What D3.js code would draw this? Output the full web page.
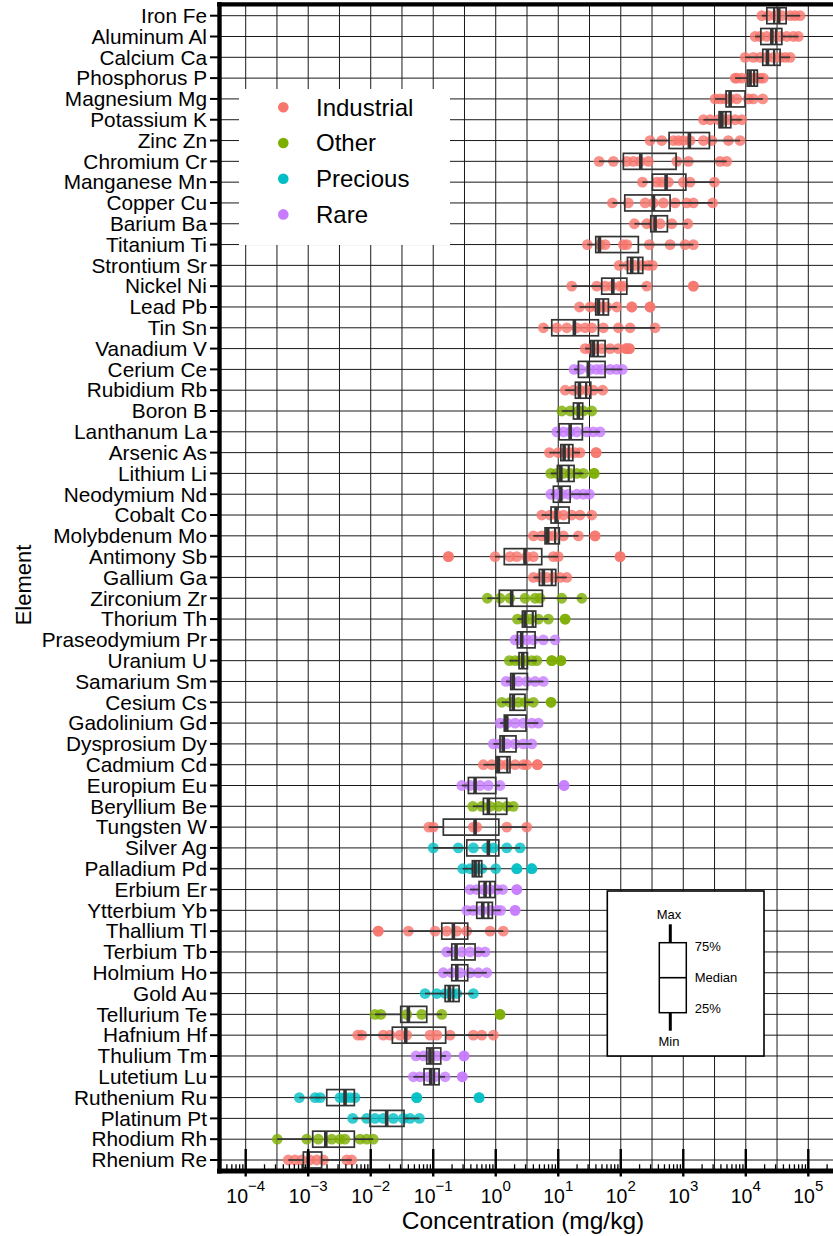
<!DOCTYPE html>
<html><head><meta charset="utf-8">
<script src="https://cdn.jsdelivr.net/npm/d3@7"></script>
<style>body{margin:0;background:#fff}svg{display:block;font-family:"Liberation Sans",Arial,Helvetica,sans-serif}</style>
</head><body><svg id="c" width="833" height="1236"></svg>
<script>
const elements = ["Iron Fe","Aluminum Al","Calcium Ca","Phosphorus P","Magnesium Mg","Potassium K","Zinc Zn","Chromium Cr","Manganese Mn","Copper Cu","Barium Ba","Titanium Ti","Strontium Sr","Nickel Ni","Lead Pb","Tin Sn","Vanadium V","Cerium Ce","Rubidium Rb","Boron B","Lanthanum La","Arsenic As","Lithium Li","Neodymium Nd","Cobalt Co","Molybdenum Mo","Antimony Sb","Gallium Ga","Zirconium Zr","Thorium Th","Praseodymium Pr","Uranium U","Samarium Sm","Cesium Cs","Gadolinium Gd","Dysprosium Dy","Cadmium Cd","Europium Eu","Beryllium Be","Tungsten W","Silver Ag","Palladium Pd","Erbium Er","Ytterbium Yb","Thallium Tl","Terbium Tb","Holmium Ho","Gold Au","Tellurium Te","Hafnium Hf","Thulium Tm","Lutetium Lu","Ruthenium Ru","Platinum Pt","Rhodium Rh","Rhenium Re"];
const groupNames = ["Industrial","Other","Precious","Rare"];
const groupColors = ["#F8766D","#7CAE00","#00BFC4","#C77CFF"];
const groupOf = ["Industrial","Industrial","Industrial","Industrial","Industrial","Industrial","Industrial","Industrial","Industrial","Industrial","Industrial","Industrial","Industrial","Industrial","Industrial","Industrial","Industrial","Rare","Industrial","Other","Rare","Industrial","Other","Rare","Industrial","Industrial","Industrial","Industrial","Other","Other","Rare","Other","Rare","Other","Rare","Rare","Industrial","Rare","Other","Industrial","Precious","Precious","Rare","Rare","Industrial","Rare","Rare","Precious","Other","Industrial","Rare","Rare","Precious","Precious","Other","Industrial"];
const whiskerLow = [18000,14100,9750,6750,3230,2100,294,45,222,73.5,165,29.2,94,16.4,21.8,5.78,26.9,17.9,12.9,11.4,9.46,7.21,7.59,7.59,5.44,4,0.975,4,0.734,2.22,2.04,1.65,1.46,1.25,1.17,0.916,0.634,0.286,0.429,0.085,0.1,0.296,0.388,0.344,0.04,0.164,0.145,0.074,0.0117,0.0062,0.053,0.0481,0.00072,0.00515,0.00032,0.00048];
const quart1 = [21700,17400,18700,10600,4840,3740,593,110,321,116,302,39.8,128,49.6,39.8,7.87,33.1,21,18.8,17.5,10.3,11,9.7,8.36,7.67,6.15,1.37,4.99,1.14,2.67,2.22,2.36,1.74,1.69,1.37,1.17,1.01,0.365,0.634,0.145,0.344,0.423,0.541,0.497,0.137,0.198,0.198,0.155,0.0302,0.0222,0.0787,0.0713,0.00198,0.00975,0.00118,0.000836];
const median = [33700,26100,22200,11700,5610,4130,1250,209,531,333,354,45.5,150,74.5,43.9,18.1,36.5,30.3,21.8,21,15.5,12.4,11,11,9.23,6.79,2.94,5.78,1.8,2.94,2.6,2.7,1.91,1.91,1.5,1.32,1.1,0.467,0.762,0.467,0.762,0.467,0.675,0.62,0.21,0.232,0.238,0.181,0.04,0.0363,0.0889,0.0912,0.00388,0.018,0.00191,0.001];
const secondLine = [28400,30500,28400,13600,null,4790,null,null,null,null,null,null,191,null,52.7,null,42.9,null,27.9,null,null,14.7,14.7,null,null,8.9,null,7.87,null,3.91,null,null,null,null,null,null,1.53,null,null,null,null,0.535,0.811,0.762,null,null,null,0.21,null,null,0.1,0.103,null,null,null,null];
const quart3 = [44200,37700,35400,15300,9750,5750,2620,767,1100,615,557,191,225,125,63.4,43.9,56.1,56.1,33.1,24.6,24.3,17.1,17.9,15.5,14.9,10.4,5.44,9.12,5.57,4.36,4.26,3.21,3.21,2.94,3.05,2.11,1.69,1,1.5,1.12,1.12,0.597,0.975,0.883,0.356,0.467,0.356,0.259,0.0787,0.158,0.132,0.124,0.00547,0.0341,0.00547,0.00164];
const whiskerHigh = [74000,69500,51200,19100,18700,8630,8110,4960,3150,2960,1180,1450,321,261,86.3,354,91.6,106,51.5,34.4,46.7,22.3,25.2,31.5,34.4,21,10,13.7,23.8,6.95,8.9,4.53,5.78,4,4.81,3.77,3.13,1.17,1.91,3.13,2.45,1,1.29,1.2,1.32,0.675,0.718,0.439,0.137,0.916,0.16,0.155,0.00561,0.06,0.011,0.00497];
const samples = [
[18000,23000,29400,37700,51200,61500,74000],
[14100,16900,21700,27700,35400,45300,57800,69500],
[9750,13200,16900,21700,27700,35400,42600,51200],
[6750,7180,8630,11000,12500,14100,16900,19100],
[3230,3880,4670,5610,7180,11000,13200,18700],
[2100,2690,3650,4390,5270,6750,8630],
[294,453,695,836,1000,1285,2100,2860,5270,8110],
[45,76.2,125,159,204,277,787,1208,3880,4960],
[222,377,453,578,1000,1285,3150],
[73.5,132,245,333,481,740,1140,1450,2960],
[165,261,333,426,655,1180],
[29.2,46.7,56.1,110,125,287,615,1070,1450],
[94,132,169,217,277,321],
[16.4,41.3,56.1,71.8,97.5,110,261],
[21.8,32.3,41.3,49.6,59.7,86.3],
[5.78,9.46,13.7,19.8,26.9,34.4,52.7,91.6,141,354],
[26.9,32.3,38.8,49.6,67.5,91.6],
[17.9,22.3,32.3,41.3,49.6,67.5,86.3,106],
[12.9,17.5,22.3,28.6,36.5,51.5],
[11.4,15.5,21,25.2,34.4],
[9.46,12.1,15.5,19.8,28.6,36.5,46.7],
[7.21,10,12.9,15.5,18.6,22.3],
[7.59,9.46,12.1,15.5,19.8,25.2],
[7.59,9.46,11.4,14.5,19.8,25.2,31.5],
[5.44,7.4,9.46,12.1,16.4,22.3,34.4],
[4,5.44,6.95,8.36,12.1,21],
[0.975,1.69,2.17,3.13,4,8.36,10],
[4,5.12,6.55,8.36,10.7,13.7],
[0.734,1.17,1.69,2.94,4.26,5.12,11.4,23.8],
[2.22,2.84,3.54,4.81,6.95],
[2.04,2.45,3.13,4,5.78,8.9],
[1.65,2.04,2.45,2.94,3.77,4.53],
[1.46,1.8,2.3,3.13,4.26,5.78],
[1.25,1.69,2.3,2.94,4],
[1.17,1.5,2.04,2.77,3.77,4.81],
[0.916,1.17,1.5,2.04,2.77,3.77],
[0.634,0.863,1.17,1.5,2.04,2.77,3.13],
[0.286,0.388,0.561,0.762,1.17],
[0.429,0.597,0.811,1.1,1.5,1.91],
[0.085,0.1,0.439,0.497,1.5,3.13],
[0.1,0.252,0.439,0.718,0.916,1.5,2.45],
[0.296,0.388,0.497,0.597,1],
[0.388,0.497,0.634,0.811,1.04,1.29],
[0.344,0.439,0.597,0.811,1.04,1.2],
[0.04,0.107,0.164,0.238,0.344,0.811,1.32],
[0.164,0.21,0.286,0.388,0.527,0.675],
[0.145,0.198,0.269,0.388,0.527,0.718],
[0.074,0.114,0.155,0.198,0.238,0.439],
[0.0117,0.0145,0.0377,0.0655,0.137],
[0.0062,0.00718,0.0159,0.0204,0.0294,0.0377,0.0889,0.114,0.186,0.439,0.597,0.916],
[0.053,0.0695,0.0889,0.114,0.16],
[0.0481,0.0615,0.0836,0.107,0.155],
[0.00072,0.00129,0.00155,0.00323,0.00388,0.00467,0.00561],
[0.00515,0.00863,0.0117,0.0159,0.023,0.0333,0.0426,0.06],
[0.00032,0.000946,0.00145,0.00238,0.00323,0.00388,0.00675,0.00863,0.011],
[0.00048,0.000615,0.000787,0.00107,0.00137,0.00175,0.00413,0.00497]];
const outliers = [[],[],[],[],[],[],[],[],[],[],[],[],[],[1450],[150,294],[],[122,137],[],[],[],[],[40.3],[37.4],[],[],[38.8],[0.175,97.5],[],[],[12.9],[],[7.87,11],[],[7.67],[],[],[4.63],[12.4],[],[],[],[2.17,3.77],[2.17],[2.04],[0.0132],[],[],[],[1.17],[],[0.311],[0.292],[0.0544,0.541],[],[],[]];
const tickExponents = [-4,-3,-2,-1,0,1,2,3,4,5];
const xTitle = "Concentration (mg/kg)";
const yTitle = "Element";
const keyLabels = ["Max","75%","Median","25%","Min"];

const svg = d3.select("#c");
const PL = 219.5, PR = 833, PT = 4.3, PB = 1171;
const x = d3.scaleLog().domain([1e-4, 1e5]).range([245.7, 808.3]);
const y = d3.scalePoint().domain(elements).range([15.7, 1160]);
const color = d3.scaleOrdinal().domain(groupNames).range(groupColors);

// grid
const g = svg.append("g");
const gridVals = [];
for (let e = -4; e <= 5; e += 0.5) gridVals.push(Math.pow(10, e));
g.selectAll("line.v").data(gridVals).join("line")
  .attr("x1", d => x(d)).attr("x2", d => x(d)).attr("y1", PT).attr("y2", PB)
  .attr("stroke", "#1a1a1a").attr("stroke-width", 1);
g.selectAll("line.h").data(elements).join("line")
  .attr("x1", PL).attr("x2", PR).attr("y1", d => y(d)).attr("y2", d => y(d))
  .attr("stroke", "#1a1a1a").attr("stroke-width", 1);

// points
const R = 5.4;
const ptsG = svg.append("g");
elements.forEach((el, i) => {
  const c = color(groupOf[i]);
  const all = samples[i].concat(outliers[i]);
  ptsG.selectAll(null).data(all).join("circle")
    .attr("cx", d => x(d)).attr("cy", y(el)).attr("r", R)
    .attr("fill", c).attr("fill-opacity", 0.8);
});

// boxes
const bx = svg.append("g");
const H = 8;
elements.forEach((el, i) => {
  const cy = y(el);
  bx.append("line").attr("x1", x(whiskerLow[i])).attr("x2", x(quart1[i])).attr("y1", cy).attr("y2", cy)
    .attr("stroke", "#333").attr("stroke-width", 1.7);
  bx.append("line").attr("x1", x(quart3[i])).attr("x2", x(whiskerHigh[i])).attr("y1", cy).attr("y2", cy)
    .attr("stroke", "#333").attr("stroke-width", 1.7);
  bx.append("rect").attr("x", x(quart1[i])).attr("width", x(quart3[i]) - x(quart1[i]))
    .attr("y", cy - H).attr("height", 2 * H).attr("fill", "none").attr("stroke", "#333").attr("stroke-width", 1.7);
  bx.append("line").attr("x1", x(median[i])).attr("x2", x(median[i])).attr("y1", cy - H).attr("y2", cy + H)
    .attr("stroke", "#333").attr("stroke-width", 3.6);
  if (secondLine[i] != null) {
    bx.append("line").attr("x1", x(secondLine[i])).attr("x2", x(secondLine[i])).attr("y1", cy - H).attr("y2", cy + H)
      .attr("stroke", "#333").attr("stroke-width", 2.2);
  }
  bx.selectAll(null).data(outliers[i]).join("circle")
    .attr("cx", d => x(d)).attr("cy", cy).attr("r", R)
    .attr("fill", color(groupOf[i])).attr("fill-opacity", 0.8);
});

// colour legend
const lg = svg.append("g");
lg.append("rect").attr("x", 239).attr("y", 89).attr("width", 211).attr("height", 156).attr("fill", "#fff");
groupNames.forEach((n, k) => {
  const yy = 107.3 + k * 35.7;
  lg.append("circle").attr("cx", 283.3).attr("cy", yy).attr("r", 5.3).attr("fill", color(n));
  lg.append("text").attr("x", 316).attr("y", yy + 8.4).attr("font-size", 24).attr("fill", "#000").text(n);
});

// box key
const kg = svg.append("g");
kg.append("rect").attr("x", 607.3).attr("y", 891).attr("width", 156.7).attr("height", 165)
  .attr("fill", "#fff").attr("stroke", "#000").attr("stroke-width", 1.6);
kg.append("line").attr("x1", 670.3).attr("x2", 670.3).attr("y1", 924.3).attr("y2", 942.7).attr("stroke", "#000").attr("stroke-width", 3);
kg.append("line").attr("x1", 670.3).attr("x2", 670.3).attr("y1", 1012.7).attr("y2", 1030.7).attr("stroke", "#000").attr("stroke-width", 3);
kg.append("rect").attr("x", 659.3).attr("y", 942.7).attr("width", 27).attr("height", 70)
  .attr("fill", "#fff").attr("stroke", "#000").attr("stroke-width", 1.5);
kg.append("line").attr("x1", 659.3).attr("x2", 686.3).attr("y1", 977.7).attr("y2", 977.7).attr("stroke", "#000").attr("stroke-width", 1.6);
const keyPos = [[669, 919.3, "middle"], [694.7, 951, "start"], [694.7, 981.7, "start"], [694.7, 1013, "start"], [669, 1045.7, "middle"]];
keyLabels.forEach((t, k) => {
  kg.append("text").attr("x", keyPos[k][0]).attr("y", keyPos[k][1]).attr("text-anchor", keyPos[k][2])
    .attr("font-size", 13).attr("fill", "#000").text(t);
});

// axes frame
const ax = svg.append("g");
ax.append("line").attr("x1", 217).attr("x2", 833).attr("y1", PT).attr("y2", PT).attr("stroke", "#000").attr("stroke-width", 4.2);
ax.append("line").attr("x1", PL).attr("x2", PL).attr("y1", 2).attr("y2", 1173.5).attr("stroke", "#000").attr("stroke-width", 4.4);
ax.append("line").attr("x1", 217).attr("x2", 833).attr("y1", PB).attr("y2", PB).attr("stroke", "#000").attr("stroke-width", 5);

// y ticks and labels
ax.selectAll("line.yt").data(elements).join("line")
  .attr("x1", 210).attr("x2", PL).attr("y1", d => y(d)).attr("y2", d => y(d))
  .attr("stroke", "#000").attr("stroke-width", 2);
ax.selectAll("text.yl").data(elements).join("text")
  .attr("x", 207).attr("y", d => y(d)).attr("dy", "0.35em").attr("text-anchor", "end")
  .attr("font-size", 20.8).attr("fill", "#000").text(d => d);

// x minor ticks
const minor = [];
for (let e = -5; e <= 5; e++) for (let m = 2; m <= 9; m++) {
  const v = m * Math.pow(10, e);
  if (x(v) > PL + 3 && x(v) < PR) minor.push(v);
}
ax.selectAll("line.mt").data(minor).join("line")
  .attr("x1", d => x(d)).attr("x2", d => x(d)).attr("y1", 1164.3).attr("y2", PB)
  .attr("stroke", "#000").attr("stroke-width", 1.3);
const majors = tickExponents.map(e => Math.pow(10, e));
ax.selectAll("line.Mt").data(majors).join("line")
  .attr("x1", d => x(d)).attr("x2", d => x(d)).attr("y1", 1149).attr("y2", 1176.5)
  .attr("stroke", "#000").attr("stroke-width", 2.4);
const tl = ax.selectAll("text.xl").data(tickExponents).join("text")
  .attr("x", e => x(Math.pow(10, e))).attr("y", 1203).attr("text-anchor", "middle")
  .attr("font-size", 19.5).attr("fill", "#000");
tl.append("tspan").text("10");
tl.append("tspan").attr("dy", -12.5).attr("font-size", 15).text(e => (e < 0 ? "\u2212" + (-e) : "" + e));

svg.append("text").attr("x", 523).attr("y", 1229).attr("text-anchor", "middle").attr("font-size", 24.5).attr("fill", "#000").text(xTitle);
svg.append("text").attr("transform", "translate(31,585) rotate(-90)").attr("text-anchor", "middle").attr("font-size", 22).attr("fill", "#000").text(yTitle);
</script></body></html>
